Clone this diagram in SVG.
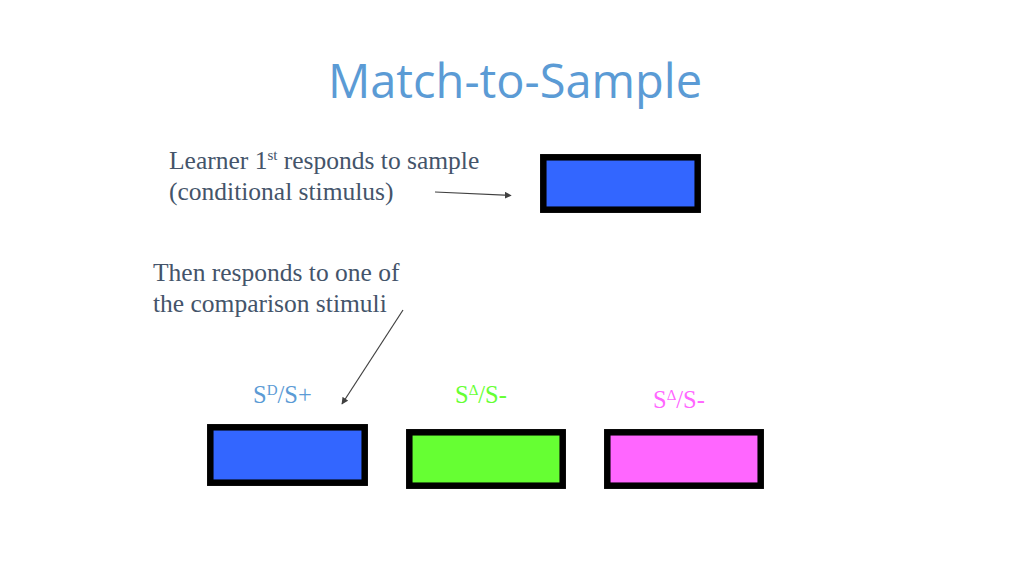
<svg xmlns="http://www.w3.org/2000/svg" width="1024" height="575" viewBox="0 0 1024 575">
<style>
.title{font-family:"Open Sans","Noto Sans",sans-serif;font-size:47px;fill:#5b9bd5}
.body{font-family:"Liberation Serif",serif;font-size:25.5px;fill:#44546a}
.lab{font-family:"Liberation Serif",serif;font-size:24.5px}
.box{stroke:#000;stroke-width:6.5}
.conn{stroke:#404040;stroke-width:1.2;fill:none;marker-end:url(#ah)}
</style>
<defs>
<marker id="ah" viewBox="0 0 10 10" refX="9" refY="5" markerWidth="7" markerHeight="7" markerUnits="userSpaceOnUse" orient="auto">
<path d="M0,0 L10,5 L0,10 z" fill="#404040"/>
</marker>
</defs>
<rect width="1024" height="575" fill="#fff"/>
<g id="title"><text class="title" x="515" y="98" text-anchor="middle">Match-to-Sample</text></g>
<g id="text1"><text class="body" x="169" y="169">Learner 1<tspan font-size="15" dy="-9">st</tspan><tspan dy="9"> responds to sample</tspan></text>
<text class="body" x="169" y="200">(conditional stimulus)</text></g>
<g id="text2"><text class="body" x="153" y="281">Then responds to one of</text>
<text class="body" x="153" y="312">the comparison stimuli</text></g>
<g id="sample"><rect class="box" x="543.3" y="157.3" width="154.4" height="52.4" fill="#3366ff"/></g>
<g id="sd"><text class="lab" x="253" y="403" fill="#5b9bd5">S<tspan font-size="15" dy="-8">D</tspan><tspan dy="8">/S+</tspan></text>
<rect class="box" x="210.3" y="427.3" width="154.4" height="55.4" fill="#3366ff"/></g>
<g id="sdelta1"><text class="lab" x="455" y="403" fill="#66ff33">S<tspan font-size="15" dy="-8">Δ</tspan><tspan dy="8">/S-</tspan></text>
<rect class="box" x="409.3" y="432.3" width="153.4" height="53.4" fill="#66ff33"/></g>
<g id="sdelta2"><text class="lab" x="653" y="408" fill="#ff66ff">S<tspan font-size="15" dy="-8">Δ</tspan><tspan dy="8">/S-</tspan></text>
<rect class="box" x="607.3" y="432.3" width="153.4" height="53.4" fill="#ff66ff"/></g>
<g id="connectors">
<line class="conn" x1="435" y1="192" x2="511" y2="195.5"/>
<line class="conn" x1="403" y1="310" x2="342" y2="404"/>
</g>
</svg>
